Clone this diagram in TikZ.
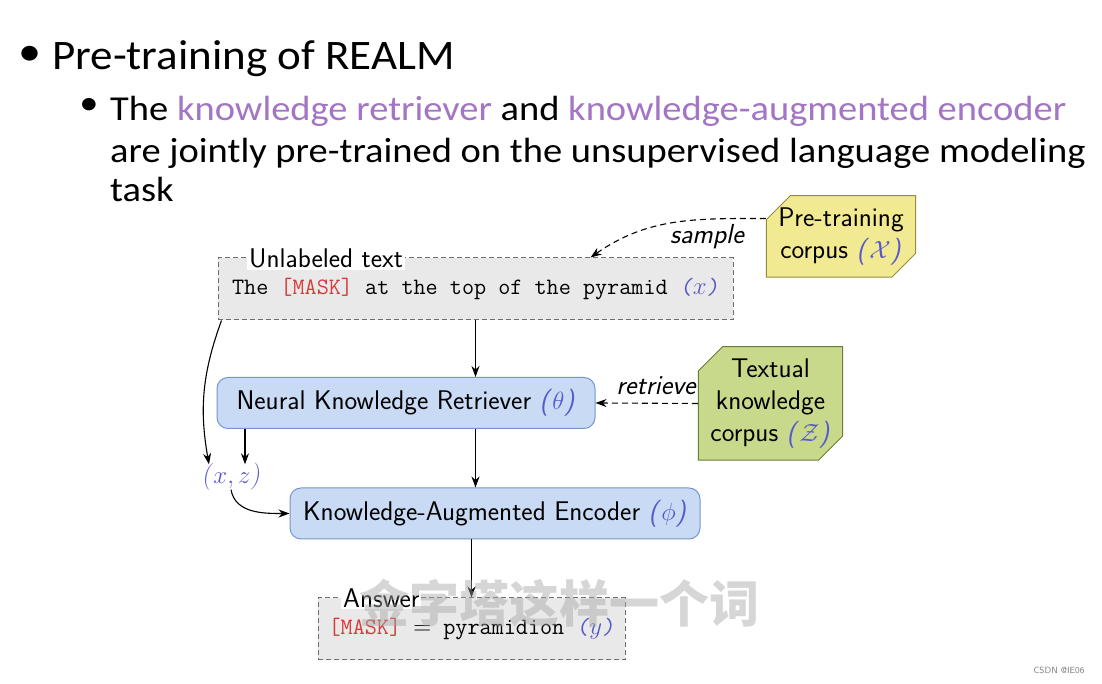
\documentclass[tikz,border=0pt]{standalone}
\usepackage{fontspec}
\usepackage{amsmath}
\usepackage{tikz}
\usetikzlibrary{shapes.misc,arrows.meta}

\newfontfamily\slidefont{Carlito}
\newfontfamily\cjkfont{Noto Sans CJK SC}

\definecolor{lilac}{RGB}{163,117,196}
\definecolor{varblue}{RGB}{88,88,205}
\definecolor{maskred}{RGB}{215,60,60}
\definecolor{boxgray}{RGB}{233,233,233}
\definecolor{boxline}{RGB}{110,110,110}
\definecolor{modelfill}{RGB}{200,218,244}
\definecolor{modelline}{RGB}{118,150,206}
\definecolor{corpyellow}{RGB}{242,234,146}
\definecolor{corpyellowline}{RGB}{150,140,60}
\definecolor{corpgreen}{RGB}{200,217,140}
\definecolor{corpgreenline}{RGB}{105,125,55}

\newcommand{\param}[1]{\textcolor{varblue}{\textsl{(}$#1$\textsl{)}}}
\newcommand{\masktok}{\textcolor{maskred}{[MASK]}}

\begin{document}
\begin{tikzpicture}[x=1pt,y=1pt,
    slide/.style={anchor=base west,inner sep=0pt,xscale=1.1,transform shape,font=\slidefont\fontsize{35}{42}\selectfont},
    textbox/.style={draw=boxline,dash pattern=on 5pt off 3pt,line width=1pt,fill=boxgray,
      minimum height=62pt,inner xsep=0pt,font=\ttfamily\fontsize{23.5}{28}\selectfont},
    boxlabel/.style={anchor=west,fill=white,inner sep=2pt,font=\sffamily\fontsize{27}{32}\selectfont},
    model/.style={draw=modelline,line width=1pt,fill=modelfill,rounded corners=11pt,
      minimum height=51pt,font=\sffamily\fontsize{27}{32}\selectfont},
    corpus/.style={chamfered rectangle,chamfered rectangle corners={north west,south east},
      chamfered rectangle sep=12pt,line width=1pt,align=center,inner sep=0pt,
      font=\sffamily\fontsize{27}{32}\selectfont},
    flow/.style={-{Stealth[length=11pt,width=8pt]},line width=1.1pt},
    query/.style={-{Stealth[length=11pt,width=8pt]},line width=1.1pt,dash pattern=on 6pt off 4pt},
    tag/.style={font=\sffamily\slshape\fontsize{27.5}{32}\selectfont,inner sep=0pt}
  ]
      \path[fill=white] (0,0) rectangle (1102,684);
      \useasboundingbox (0,0) rectangle (1102,684);
      % slide text
      \node[slide,anchor=center,font=\slidefont\fontsize{42}{48}\selectfont] (dot1) at (30,628) {•};
      \node[slide,xscale=0.975,font=\slidefont\fontsize{42}{48}\selectfont] (title) at (52,614) {Pre-training of REALM};
      \node[slide,anchor=center] (dot2) at (89,577) {•};
      \node[slide] (sub1) at (110,563) {The \textcolor{lilac}{knowledge retriever} and \textcolor{lilac}{knowledge-augmented encoder}};
      \node[slide] (sub2) at (110,521) {are jointly pre-trained on the unsupervised language modeling};
      \node[slide] (sub3) at (110,482) {task};

      % diagram
      \node[textbox,minimum width=515pt] (unlabeled) at (475.5,395) {The \masktok{} at the top of the pyramid \param{x}};
      \node[boxlabel] (unlabeledlbl) at (247,426) {Unlabeled text};
      \node[corpus,fill=corpyellow,draw=corpyellowline,minimum width=143pt,minimum height=73pt] (pretrain) at (841,447.5) {Pre-training\\corpus \param{\mathcal{X}}};
      \node[model,minimum width=378pt] (retriever) at (406,281) {Neural Knowledge Retriever \param{\theta}};
      \node[corpus,fill=corpgreen,draw=corpgreenline,minimum width=135pt,minimum height=103pt] (textual) at (770.5,280.5) {Textual\\knowledge\\corpus \param{\mathcal{Z}}};
      \node[inner sep=1pt,font=\fontsize{27}{32}\selectfont] (xz) at (231,207) {\param{x,z}};
      \node[model,minimum width=410pt] (encoder) at (495,170.5) {Knowledge-Augmented Encoder \param{\phi}};
      \node[textbox,minimum width=307pt] (answer) at (471.5,55) {\masktok{} $=$ pyramidion \param{y}};
      \node[boxlabel] (answerlbl) at (341,86) {Answer};

      \draw[query] ([yshift=18pt]pretrain.west) to[out=180,in=35] ([xshift=115pt]unlabeled.north);
      \node[tag] (sample) at (707,447) {sample};
      \draw[query] (textual.west) -- (retriever.east);
      \node[tag] (retrieve) at (656,298) {retrieve};

      \draw[flow] (unlabeled.south) -- (unlabeled.south |- retriever.north);
      \draw[flow] (unlabeled.south |- retriever.south) -- (unlabeled.south |- encoder.north);
      \draw[flow] (answer.north |- encoder.south) -- (answer.north);
      \draw[flow] ([xshift=4pt]unlabeled.south west) to[out=250,in=100] ([xshift=-22pt,yshift=-2pt]xz.north);
      \draw[flow] ([xshift=14pt]xz.north |- retriever.south) -- ([xshift=14pt,yshift=-2pt]xz.north);
      \draw[flow] ([yshift=2pt]xz.south) to[out=-80,in=180] (encoder.west);

      % overlays
      \node[text=gray!70,text opacity=0.45,font=\cjkfont\bfseries\fontsize{50}{56}\selectfont] (subtitle) at (559,81) {金字塔这样一个词};
      \node[anchor=east,text=gray,font=\sffamily\fontsize{9}{11}\selectfont] (mark) at (1088,14) {CSDN @IE06};
\end{tikzpicture}
\end{document}
